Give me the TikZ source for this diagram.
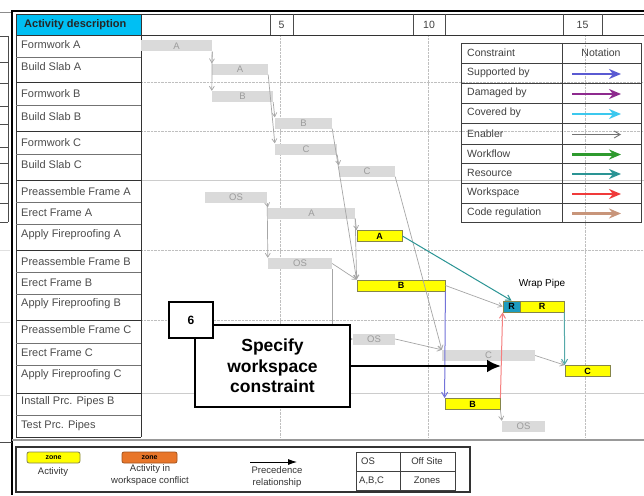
\documentclass[tikz,border=0pt]{standalone}
\usepackage{fontspec}
\setmainfont{Liberation Sans}
\usetikzlibrary{arrows.meta}

\definecolor{hdrcyan}{HTML}{00BFF3}
\definecolor{bargray}{HTML}{DADADA}
\definecolor{bartext}{HTML}{9C9C9C}
\definecolor{linegray}{HTML}{A6A6A6}
\definecolor{zoneyellow}{HTML}{FFFF00}
\definecolor{zoneedge}{HTML}{85854A}
\definecolor{rteal}{HTML}{1C9CC0}
\definecolor{conforange}{HTML}{E8762A}
\definecolor{suppblue}{HTML}{5A5AD2}
\definecolor{dampurple}{HTML}{8E2A8E}
\definecolor{covcyan}{HTML}{3CC8EE}
\definecolor{flowgreen}{HTML}{2E9A2E}
\definecolor{resteal}{HTML}{2A9494}
\definecolor{wsred}{HTML}{F03A3A}
\definecolor{codebrown}{HTML}{C8957A}

\tikzset{
  bar/.style={fill=bargray, text=bartext, inner sep=0pt, minimum height=11,
    font=\fontsize{9.5}{9.5}\selectfont},
  zone/.style={fill=zoneyellow, draw=zoneedge, line width=0.8, inner sep=0pt,
    minimum height=11, font=\fontsize{9}{9}\selectfont\bfseries},
  prec/.style={linegray, line width=0.7, -{Straight Barb[length=4,width=5]}},
  cons/.style={line width=1, -{Straight Barb[length=5,width=6]}},
  rowtxt/.style={anchor=west, inner sep=0pt, text=black!70,
    font=\fontsize{11}{11}\selectfont},
  legtxt/.style={anchor=west, inner sep=0pt, text=black!75,
    font=\fontsize{10.5}{10.5}\selectfont},
  smalltxt/.style={inner sep=0pt, text=black!80,
    font=\fontsize{9.5}{11.5}\selectfont},
  callbox/.style={draw, line width=2.8, fill=white, inner sep=0pt, align=center,
    font=\fontsize{17.5}{20.5}\selectfont\bfseries}
}

\begin{document}
\begin{tikzpicture}[x=1pt, y=-1pt]
  \useasboundingbox (0,0) rectangle (644,495);
  \fill[white] (0,0) rectangle (644,495);

  % Cadre
  \draw[black!45] (0,12) -- (12,12);
  \draw[black, line width=2.5] (11,11) -- (644,11);
  \draw[black, line width=2.5] (12,11) -- (12,495);
  \draw[black!40, line width=2] (12,440) -- (644,440);
  \draw[black!70] (0,442) -- (12,442);

  % Panneau de gauche (coupe)
  \draw[black!70] (8,36) -- (8,222);
  \foreach \y in {36,62,83,106,124,147,163,183,203,222}
    \draw[black!70] (0,\y) -- (8,\y);
  \foreach \y in {250,322,395}
    \draw[black!12] (0,\y) -- (10,\y);

  % Grille
  \foreach \x in {280,428,585}
    \draw[black!25, densely dotted] (\x,35) -- (\x,437);
  \foreach \y in {82,131,250,320}
    \draw[black!25, densely dotted] (141,\y) -- (644,\y);
  \foreach \y in {180,393}
    \draw[black!20] (141,\y) -- (644,\y);

  % En-tete
  \fill[hdrcyan] (16,14) rectangle (141,35);
  \draw[black!80] (16,14) rectangle (644,35);
  \foreach \x in {270,293,413,445,563,602}
    \draw[black!70] (\x,14) -- (\x,35);
  \node[anchor=west, inner sep=0pt, text=black!85,
    font=\fontsize{11}{11}\selectfont\bfseries] (hdr) at (24,24.5) {Activity description};
  \node[legtxt, anchor=center] (n5) at (281.5,24.5) {5};
  \node[legtxt, anchor=center] (n10) at (429,24.5) {10};
  \node[legtxt, anchor=center] (n15) at (582.5,24.5) {15};

  % Liste des activites
  \draw[black!80] (16,14) -- (16,437) -- (141,437);
  \draw[black!80, line width=0.9] (141,14) -- (141,437);
  \foreach \y in {57,105,154,202,224,272,294,343,365,415}
    \draw[black!55] (16,\y) -- (141,\y);
  \foreach \y in {35,82,131,180,250,320,393}
    \draw[black!80, line width=0.9] (16,\y) -- (141,\y);
  \foreach \y/\t [count=\i] in {45/Formwork A, 67/Build Slab A, 94/Formwork B,
      117/Build Slab B, 143/Formwork C, 165/Build Slab C, 192/Preassemble Frame A,
      213/Erect Frame A, 235/Apply Fireproofing A, 262/Preassemble Frame B,
      283/Erect Frame B, 304/Apply Fireproofing B, 330/Preassemble Frame C,
      353/Erect Frame C, 375/Apply Fireproofing C, 402/Install Prc. Pipes B,
      426/Test Prc. Pipes}
    \node[rowtxt] (row\i) at (21,\y) {\t};

  % Barres grises
  \node[bar, minimum width=71] (fwA) at (176.5,46) {A};
  \node[bar, minimum width=56] (bsA) at (240,69) {A};
  \node[bar, minimum width=61] (fwB) at (242.5,96.5) {B};
  \node[bar, minimum width=57] (bsB) at (303.5,123) {B};
  \node[bar, minimum width=62] (fwC) at (306,149) {C};
  \node[bar, minimum width=56] (bsC) at (367,171) {C};
  \node[bar, minimum width=62] (osA) at (236,197.5) {OS};
  \node[bar, minimum width=87] (erA) at (311.5,213) {A};
  \node[bar, minimum width=64] (osB) at (300,263.5) {OS};
  \node[bar, minimum width=42] (osC) at (374,339) {OS};
  \node[bar, minimum width=93] (erC) at (488.5,355.5) {C};
  \node[bar, minimum width=43] (tpOS) at (523.5,426.5) {OS};

  % Barres jaunes (zones)
  \node[zone, minimum width=45] (apA) at (379.5,236) {A};
  \node[zone, minimum width=88] (erB) at (401,285.5) {B};
  \node[zone, minimum width=17, fill=rteal] (wpR1) at (511.5,306.5) {R};
  \node[zone, minimum width=44] (wpR2) at (542,306.5) {R};
  \node[zone, minimum width=45] (apC) at (587.5,371) {C};
  \node[zone, minimum width=55] (ipB) at (472.5,404) {B};
  \node[inner sep=0pt, font=\fontsize{10}{10}\selectfont] (wp) at (542,284) {Wrap Pipe};

  % Precedences
  \draw[prec] (fwA.south east) -- (bsA.north west);
  \draw[prec] (fwA.south east) -- (fwB.north west);
  \draw[prec] (fwB.south east) -- (bsB.north west);
  \draw[prec] (bsA.south east) -- (fwC.north west);
  \draw[prec] (fwC.south east) -- (bsC.north west);
  \draw[prec] (bsB.south east) -- (erB.north west);
  \draw[prec] (erA.south east) -- (erB.north west);
  \draw[prec] (bsC.south east) -- (erC.north west);
  \draw[prec] (osA.south east) -- (erA.north west);
  \draw[prec] (osA.south east) -- (osB.north west);
  \draw[prec] (erA.south east) -- (apA.north west);
  \draw[prec] (osB.east) -- (erB.north west);
  \draw[prec] (osB.south east) |- (osC.west);
  \draw[prec] (osC.east) -- (erC.north west);
  \draw[prec] (erC.east) -- (apC.north west);
  \draw[prec] (erB.east) -- (wpR1.west);
  \draw[prec] (ipB.south east) -- (tpOS.north west);

  % Contraintes
  \draw[cons, resteal] (apA.east) -- (wpR1.north);
  \draw[cons, resteal!80] (wpR2.south east) -- (apC.north west);
  \draw[cons, suppblue!85] (erB.south east) -- (ipB.north west);
  \draw[cons, wsred!65] (ipB.north east) -- (wpR1.south west);

  % Annotation
  \node[callbox, minimum width=155, minimum height=82] (spec) at (272.5,366)
    {Specify\\workspace\\constraint};
  \node[callbox, minimum width=44, minimum height=36,
    font=\fontsize{12}{12}\selectfont\bfseries] (six) at (191,320) {6};
  \coordinate (tip) at (501,366);
  \draw[line width=2.8, -{Latex[length=14,width=13]}] (spec.east) -- (tip);

  % Legende des contraintes
  \draw[black!75, line width=0.9] (461,43) rectangle (641,222);
  \draw[black!75] (562,43) -- (562,222);
  \foreach \y in {63,83,103,123,144,163,183,203}
    \draw[black!75] (461,\y) -- (641,\y);
  \node[legtxt] (lc) at (467,53) {Constraint};
  \node[legtxt, anchor=center] (ln) at (601,53) {Notation};
  \foreach \y/\t/\c [count=\i] in {73/Supported by/suppblue, 93/Damaged by/dampurple,
      113/Covered by/covcyan, 153.5/Workflow/flowgreen, 173/Resource/resteal,
      193/Workspace/wsred, 212.5/Code regulation/codebrown}
  {
    \node[legtxt] (lt\i) at (467,\y) {\t};
    \draw[\c, line width=2.4, -{Stealth[length=12,width=10]}] (572,\y+1) -- (621,\y+1);
  }
  \node[legtxt] (len) at (467,133.5) {Enabler};
  \draw[black!55, line width=0.9, -{Straight Barb[length=6,width=7]}] (572,134.5) -- (621,134.5);

  % Legende
  \draw[black!80, line width=1.2] (16,447) rectangle (470,492);
  \node[zone, minimum width=53, rounded corners=2, font=\fontsize{7}{7}\selectfont\bfseries]
    (lzone) at (53.5,457.5) {zone};
  \node[smalltxt] (lact) at (53,472) {Activity};
  \node[zone, minimum width=55, rounded corners=2, fill=conforange, draw=conforange!70!black,
    font=\fontsize{7}{7}\selectfont\bfseries] (lconf) at (149.5,457.5) {zone};
  \node[smalltxt, align=center] (lconft) at (150,475) {Activity in\\workspace conflict};
  \coordinate (pa) at (250,462);
  \coordinate (pb) at (297,462);
  \draw[line width=0.8, -{Latex[length=9,width=6]}] (pa) -- (pb);
  \node[smalltxt, align=center] (lprec) at (277,477) {Precedence\\relationship};
  \draw[black!75] (356,452) rectangle (455,490);
  \draw[black!75] (400,452) -- (400,490) (356,471) -- (455,471);
  \node[smalltxt, anchor=west] (los) at (361,461.5) {OS};
  \node[smalltxt] (loff) at (427,461.5) {Off Site};
  \node[smalltxt, anchor=west] (labc) at (359,480.5) {A,B,C};
  \node[smalltxt] (lzon) at (427,480.5) {Zones};
\end{tikzpicture}
\end{document}
